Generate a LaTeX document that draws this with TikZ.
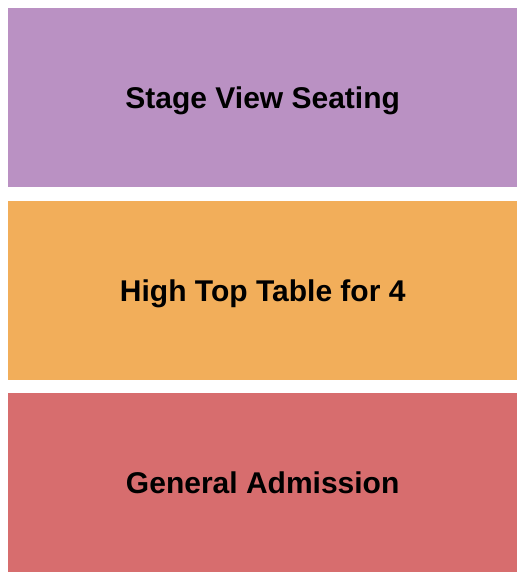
\documentclass[tikz,border=0pt]{standalone}
\usepackage{fontspec}
\setmainfont{Liberation Sans}
\definecolor{cpurple}{HTML}{BA91C3}
\definecolor{corange}{HTML}{F2AE5A}
\definecolor{cred}{HTML}{D76D6E}
\begin{document}
\begin{tikzpicture}[x=1pt,y=-1pt,
  section/.style={draw=none,anchor=north west,inner sep=0pt,minimum width=509pt,minimum height=179pt,
    text height=21.5pt,text depth=0.5pt,
    font=\fontsize{30}{34}\selectfont\bfseries,text=black}]
\useasboundingbox[fill=white] (0,0) rectangle (525,580);
\node[section,fill=cpurple] (stage) at (8,8) {Stage View Seating};
\node[section,fill=corange] (hightop) at (8,201) {High Top Table for 4};
\node[section,fill=cred] (ga) at (8,393) {General Admission};
\end{tikzpicture}
\end{document}
